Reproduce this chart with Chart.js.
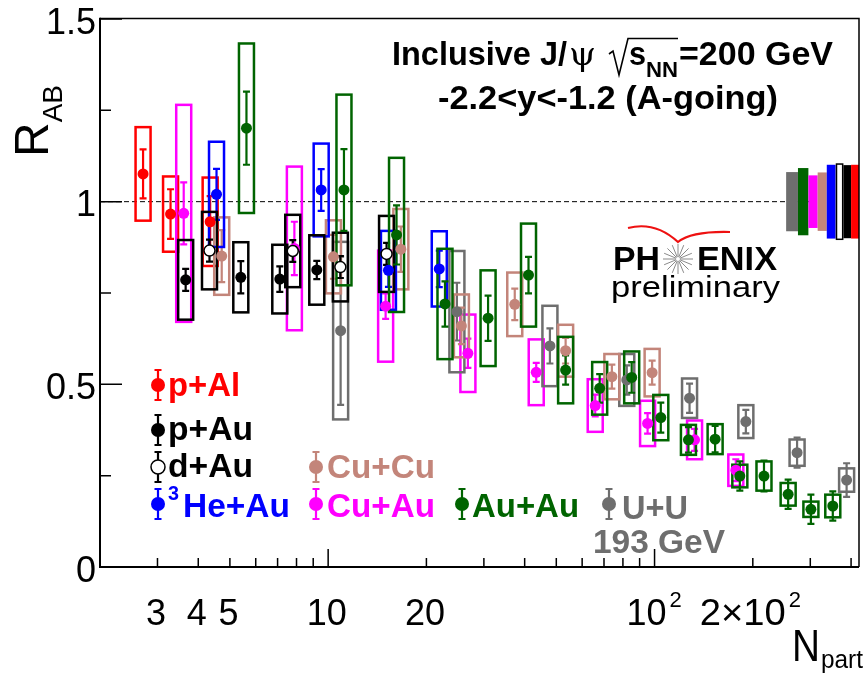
<!DOCTYPE html>
<html><head><meta charset="utf-8">
<script src="https://cdn.jsdelivr.net/npm/chart.js@4.4.1/dist/chart.umd.min.js"></script>
<style>html,body{margin:0;padding:0;background:#fff;overflow:hidden}canvas{display:block}</style>
</head><body>
<canvas id="c" width="866" height="674"></canvas>
<script>
// ---------------- DATA ----------------
const pAl_npart = [2.71, 3.29, 4.35];
const pAl_raa   = [1.076, 0.966, 0.945];
const pAl_stat  = [0.067, 0.068, 0.070];
const pAl_sys   = [0.128, 0.103, 0.121];

const pAu_npart = [3.66, 5.40, 7.11, 9.23];
const pAu_raa   = [0.786, 0.793, 0.788, 0.813];
const pAu_stat  = [0.030, 0.044, 0.035, 0.025];
const pAu_sys   = [0.109, 0.096, 0.094, 0.095];

const dAu_npart = [4.33, 7.79, 10.9, 15.1];
const dAu_raa   = [0.866, 0.865, 0.821, 0.857];
const dAu_stat  = [0.030, 0.030, 0.030, 0.030];
const dAu_sys   = [0.106, 0.099, 0.094, 0.104];

const HeAu_npart = [4.55, 9.52, 15.3, 21.9];
const HeAu_raa   = [1.020, 1.032, 0.812, 0.816];
const HeAu_stat  = [0.070, 0.057, 0.045, 0.050];
const HeAu_sys   = [0.144, 0.127, 0.108, 0.103];

const CuCu_npart = [4.72, 10.38, 16.7, 25.6, 37.3, 53.4, 74.0, 98.3];
const CuCu_raa   = [0.851, 0.849, 0.870, 0.660, 0.719, 0.592, 0.521, 0.532];
const CuCu_stat  = [0.071, 0.060, 0.062, 0.050, 0.043, 0.035, 0.033, 0.033];
const CuCu_sys   = [0.106, 0.100, 0.110, 0.086, 0.087, 0.071, 0.062, 0.065];

const CuAu_npart = [3.61, 7.88, 15.0, 26.8, 43.4, 65.8, 95.2, 132.6, 177.4];
const CuAu_raa   = [0.968, 0.872, 0.714, 0.585, 0.533, 0.442, 0.393, 0.348, 0.265];
const CuAu_stat  = [0.085, 0.073, 0.035, 0.040, 0.026, 0.030, 0.028, 0.030, 0.030];
const CuAu_sys   = [0.297, 0.224, 0.152, 0.106, 0.090, 0.072, 0.062, 0.053, 0.043];

const AuAu_npart = [5.62, 11.18, 16.2, 22.8, 30.9, 41.1, 53.4, 67.9, 85.1, 104.5, 127, 153.3, 182.5, 216.4, 256.6, 301.3, 351.6];
const AuAu_raa   = [1.201, 1.032, 0.909, 0.720, 0.681, 0.799, 0.539, 0.489, 0.519, 0.409, 0.348, 0.350, 0.249, 0.249, 0.199, 0.158, 0.167];
const AuAu_stat  = [0.100, 0.112, 0.081, 0.062, 0.062, 0.050, 0.040, 0.039, 0.042, 0.041, 0.035, 0.036, 0.040, 0.042, 0.040, 0.040, 0.040];
const AuAu_sys   = [0.232, 0.261, 0.211, 0.151, 0.131, 0.141, 0.091, 0.072, 0.071, 0.062, 0.041, 0.041, 0.031, 0.040, 0.031, 0.021, 0.031];

const UU_npart = [10.92, 24.8, 47.8, 82.2, 128, 190.4, 273.3, 387.6];
const UU_raa   = [0.647, 0.699, 0.605, 0.512, 0.462, 0.398, 0.313, 0.238];
const UU_stat  = [0.203, 0.079, 0.048, 0.040, 0.040, 0.032, 0.041, 0.046];
const UU_sys   = [0.243, 0.166, 0.110, 0.071, 0.054, 0.045, 0.036, 0.032];

// global (normalisation) uncertainties drawn at R=1, x-extent in Npart units
const globalNames = ['U+U', 'Au+Au', 'Cu+Au', 'Cu+Cu', '3He+Au', 'd+Au', 'p+Au', 'p+Al'];
const globalLo    = [253, 275, 296, 316, 337, 359, 379, 400];
const globalHi    = [275, 296, 316, 337, 359, 379, 400, 423];
const globalUnc   = [0.081, 0.092, 0.072, 0.080, 0.101, 0.103, 0.100, 0.101];

// axes
const xMin = 2, xMax = 423, yMin = 0, yMax = 1.5;
const xTickValues = [2,3,4,5,6,7,8,9,10,20,30,40,50,60,70,80,90,100,200,300,400];
const xLabelValues = [3, 4, 5, 10, 20];
const xLabelTexts  = ['3', '4', '5', '10', '20'];
const yTickValues = [0, 0.25, 0.5, 0.75, 1, 1.25, 1.5];
const yLabelValues = [0, 0.5, 1, 1.5];
const yLabelTexts  = ['0', '0.5', '1', '1.5'];

// ---------------- STYLES ----------------
const COL = {
  'p+Al': '#ff0000', 'p+Au': '#000000', 'd+Au': '#000000', '3He+Au': '#0000ff',
  'Cu+Cu': '#c3857a', 'Cu+Au': '#ff00ff', 'Au+Au': '#006400', 'U+U': '#6e6e6e'
};
const series = [
  {name:'p+Al', x:pAl_npart, y:pAl_raa, stat:pAl_stat, sys:pAl_sys},
  {name:'Cu+Au', x:CuAu_npart, y:CuAu_raa, stat:CuAu_stat, sys:CuAu_sys},
  {name:'U+U', x:UU_npart, y:UU_raa, stat:UU_stat, sys:UU_sys},
  {name:'Cu+Cu', x:CuCu_npart, y:CuCu_raa, stat:CuCu_stat, sys:CuCu_sys},
  {name:'3He+Au', x:HeAu_npart, y:HeAu_raa, stat:HeAu_stat, sys:HeAu_sys},
  {name:'p+Au', x:pAu_npart, y:pAu_raa, stat:pAu_stat, sys:pAu_sys},
  {name:'d+Au', x:dAu_npart, y:dAu_raa, stat:dAu_stat, sys:dAu_sys, open:true},
  {name:'Au+Au', x:AuAu_npart, y:AuAu_raa, stat:AuAu_stat, sys:AuAu_sys}
];

const SANS = '"Liberation Sans", Arial, Helvetica, sans-serif';

function fitText(ctx, s, x, y, font, color, w) {
  ctx.font = font; ctx.fillStyle = color; ctx.textAlign = 'left'; ctx.textBaseline = 'alphabetic';
  const m = ctx.measureText(s).width;
  if (w) { ctx.save(); ctx.translate(x, y); ctx.scale(w / m, 1); ctx.fillText(s, 0, 0); ctx.restore(); return x + w; }
  ctx.fillText(s, x, y); return x + m;
}

function errBar(ctx, px, y1, y2, color, cap) {
  ctx.strokeStyle = color; ctx.lineWidth = 2.2;
  ctx.beginPath();
  ctx.moveTo(px, y1); ctx.lineTo(px, y2);
  ctx.moveTo(px - cap, y1); ctx.lineTo(px + cap, y1);
  ctx.moveTo(px - cap, y2); ctx.lineTo(px + cap, y2);
  ctx.stroke();
}

function legendMarker(ctx, x, y, name) {
  const c = COL[name];
  errBar(ctx, x, y - 15, y + 15, c, 3.5);
  ctx.beginPath(); ctx.arc(x, y, 7, 0, Math.PI * 2);
  if (name === 'd+Au') { ctx.fillStyle = '#fff'; ctx.fill(); ctx.lineWidth = 1.5; ctx.strokeStyle = '#000'; ctx.stroke(); }
  else { ctx.fillStyle = c; ctx.fill(); }
}

const plug = {
  id: 'phenix',
  beforeDatasetsDraw(chart) {
    const ctx = chart.ctx, xs = chart.scales.x, ys = chart.scales.y, a = chart.chartArea;
    ctx.save();
    // dashed unity line
    ctx.setLineDash([5, 3]); ctx.lineWidth = 1; ctx.strokeStyle = '#000';
    const y1 = ys.getPixelForValue(1);
    ctx.beginPath(); ctx.moveTo(a.left, y1); ctx.lineTo(a.right, y1); ctx.stroke();
    ctx.setLineDash([]);
    // boxes + stat errors
    series.forEach(s => {
      const c = COL[s.name];
      s.x.forEach((xv, i) => {
        const px = xs.getPixelForValue(xv);
        const t = ys.getPixelForValue(s.y[i] + s.sys[i]);
        const b = ys.getPixelForValue(s.y[i] - s.sys[i]);
        ctx.strokeStyle = c; ctx.lineWidth = 2.5;
        ctx.strokeRect(px - 7.5, t, 15, b - t);
      });
      s.x.forEach((xv, i) => {
        const px = xs.getPixelForValue(xv);
        errBar(ctx, px, ys.getPixelForValue(s.y[i] + s.stat[i]), ys.getPixelForValue(s.y[i] - s.stat[i]), c, 3.5);
      });
    });
    ctx.restore();
  },
  afterDatasetsDraw(chart) {
    const ctx = chart.ctx, xs = chart.scales.x, ys = chart.scales.y, a = chart.chartArea;
    ctx.save();
    // global uncertainty boxes
    globalNames.forEach((n, i) => {
      const l = xs.getPixelForValue(globalLo[i]), r = xs.getPixelForValue(globalHi[i]);
      const t = ys.getPixelForValue(1 + globalUnc[i]), b = ys.getPixelForValue(1 - globalUnc[i]);
      if (n === 'd+Au') {
        ctx.fillStyle = '#fff'; ctx.fillRect(l, t, r - l, b - t);
        ctx.strokeStyle = '#000'; ctx.lineWidth = 1.5; ctx.strokeRect(l + 0.75, t, r - l - 1.5, b - t);
      } else { ctx.fillStyle = COL[n]; ctx.fillRect(l, t, r - l, b - t); }
    });
    // frame
    ctx.strokeStyle = '#000';
    ctx.lineWidth = 1.5;
    ctx.beginPath(); ctx.moveTo(a.left, a.top - 0.5); ctx.lineTo(a.right, a.top - 0.5); ctx.lineTo(a.right, a.bottom); ctx.stroke();
    ctx.lineWidth = 2;
    ctx.beginPath(); ctx.moveTo(a.left, a.top - 1.2); ctx.lineTo(a.left, a.bottom); ctx.lineTo(a.right, a.bottom); ctx.stroke();
    // ticks
    ctx.lineWidth = 1.5;
    ctx.beginPath();
    yTickValues.forEach(v => {
      const py = ys.getPixelForValue(v);
      const L = (Math.abs(v * 2 - Math.round(v * 2)) < 1e-6) ? 22 : 11;
      ctx.moveTo(a.left, py); ctx.lineTo(a.left + L, py);
    });
    xTickValues.forEach(v => {
      const px = xs.getPixelForValue(v);
      const L = (v === 10 || v === 100) ? 18 : 9;
      ctx.moveTo(px, a.bottom); ctx.lineTo(px, a.bottom - L);
    });
    ctx.stroke();
    // y labels (ink right-aligned)
    ctx.font = '36px ' + SANS; ctx.fillStyle = '#000'; ctx.textBaseline = 'alphabetic'; ctx.textAlign = 'left';
    yLabelValues.forEach((v, i) => {
      const m = ctx.measureText(yLabelTexts[i]);
      ctx.fillText(yLabelTexts[i], 95 - m.actualBoundingBoxRight, ys.getPixelForValue(v) + 14.5);
    });
    // x labels
    ctx.textAlign = 'center';
    xLabelValues.forEach((v, i) => {
      ctx.fillText(xLabelTexts[i], xs.getPixelForValue(v) - 1.5, 625);
    });
    ctx.textAlign = 'left';
    // 10^2
    {
      const px = xs.getPixelForValue(100);
      const w10 = ctx.measureText('10').width;
      ctx.fillText('10', px - 28, 625);
      ctx.font = '22px ' + SANS; ctx.fillText('2', px - 28 + w10 + 3, 607);
      const p2 = xs.getPixelForValue(200);
      ctx.font = '36px ' + SANS;
      const e = fitText(ctx, '2\u00d710', p2 - 53, 625, '36px ' + SANS, '#000', 86);
      ctx.font = '22px ' + SANS; ctx.fillText('2', e + 3, 607);
    }
    // axis titles
    ctx.font = '48px ' + SANS; ctx.fillStyle = '#000';
    ctx.save(); ctx.translate(48, 157); ctx.rotate(-Math.PI / 2);
    ctx.fillText('R', 0, 0);
    const wR = ctx.measureText('R').width;
    ctx.font = '28px ' + SANS; ctx.fillText('AB', wR, 14);
    ctx.restore();
    fitText(ctx, 'N', 792, 661, '44px ' + SANS, '#000', 28);
    fitText(ctx, 'part', 821, 668, '25px ' + SANS, '#000', 42);

    // header text
    const B = 'bold 33px ' + SANS;
    fitText(ctx, 'Inclusive J/', 392, 65, B, '#000', 175);
    fitText(ctx, '\u03c8', 569, 65, '32px "DejaVu Serif", serif', '#000', 27);
    ctx.strokeStyle = '#000'; ctx.lineWidth = 1.6;
    ctx.beginPath(); ctx.moveTo(609, 54); ctx.lineTo(613, 51); ctx.lineTo(619, 75); ctx.lineTo(628, 38.5); ctx.lineTo(678, 38.5); ctx.stroke();
    fitText(ctx, 's', 629, 65, B, '#000', 17);
    fitText(ctx, 'NN', 646, 76.5, 'bold 22px ' + SANS, '#000', 32);
    fitText(ctx, '=200 GeV', 679, 65, B, '#000', 154);
    fitText(ctx, '-2.2<y<-1.2 (A-going)', 438, 109, B, '#000', 340);

    // legend
    legendMarker(ctx, 158, 385, 'p+Al');  fitText(ctx, 'p+Al', 168, 396, B, COL['p+Al'], 72);
    legendMarker(ctx, 158, 430, 'p+Au');  fitText(ctx, 'p+Au', 168, 440, B, COL['p+Au'], 85);
    legendMarker(ctx, 158, 467, 'd+Au');  fitText(ctx, 'd+Au', 168, 477, B, COL['d+Au'], 85);
    legendMarker(ctx, 158, 504, '3He+Au');
    fitText(ctx, '3', 168, 500, 'bold 21px ' + SANS, COL['3He+Au'], 11);
    fitText(ctx, 'He+Au', 183, 517, B, COL['3He+Au'], 107);
    legendMarker(ctx, 316, 467, 'Cu+Cu'); fitText(ctx, 'Cu+Cu', 327, 478, B, COL['Cu+Cu'], 108);
    legendMarker(ctx, 316, 504, 'Cu+Au'); fitText(ctx, 'Cu+Au', 327, 517, B, COL['Cu+Au'], 108);
    legendMarker(ctx, 462, 504, 'Au+Au'); fitText(ctx, 'Au+Au', 472, 517, B, COL['Au+Au'], 107);
    legendMarker(ctx, 609, 504, 'U+U');   fitText(ctx, 'U+U', 622, 519, B, COL['U+U'], 66);
    fitText(ctx, '193 GeV', 593, 553, B, COL['U+U'], 132);

    // PHENIX logo
    fitText(ctx, 'PH', 613, 270, 'bold 34px ' + SANS, '#000', 47);
    fitText(ctx, 'ENIX', 697, 270, 'bold 34px ' + SANS, '#000', 80);
    ctx.strokeStyle = '#8a8a8a'; ctx.lineWidth = 1;
    ctx.beginPath();
    for (let k = 0; k < 16; k++) {
      const ang = k * Math.PI / 8;
      ctx.moveTo(678 + 2 * Math.cos(ang), 259 + 2 * Math.sin(ang));
      ctx.lineTo(678 + 15 * Math.cos(ang), 259 + 15 * Math.sin(ang));
    }
    ctx.stroke();
    ctx.strokeStyle = '#ee1111'; ctx.lineWidth = 2.2;
    ctx.beginPath();
    ctx.moveTo(628, 228); ctx.quadraticCurveTo(655, 221, 678, 242);
    ctx.quadraticCurveTo(692, 231, 730, 232);
    ctx.stroke();
    fitText(ctx, 'preliminary', 611, 297, '29px ' + SANS, '#000', 169);
    ctx.restore();
  }
};

const datasets = series.map((s, k) => ({
  label: s.name,
  data: s.x.map((v, i) => ({x: v, y: s.y[i]})),
  backgroundColor: s.open ? '#ffffff' : COL[s.name],
  borderColor: s.open ? '#000000' : COL[s.name],
  borderWidth: s.open ? 1.5 : 0,
  pointRadius: 5.5, pointHoverRadius: 5.5,
  showLine: false,
  order: series.length - k
}));

new Chart(document.getElementById('c'), {
  type: 'scatter',
  data: { datasets },
  options: {
    responsive: false, animation: false, devicePixelRatio: 1,
    layout: { padding: { top: 19, right: 1, left: 0, bottom: 0 } },
    plugins: { legend: { display: false }, tooltip: { enabled: false }, title: { display: false } },
    events: [],
    scales: {
      x: { type: 'logarithmic', min: xMin, max: xMax,
           ticks: { display: false }, grid: { display: false }, border: { display: false },
           afterFit(s) { s.height = 107; } },
      y: { type: 'linear', min: yMin, max: yMax,
           ticks: { display: false }, grid: { display: false }, border: { display: false },
           afterFit(s) { s.width = 100; } }
    }
  },
  plugins: [plug]
});
</script>
</body></html>
